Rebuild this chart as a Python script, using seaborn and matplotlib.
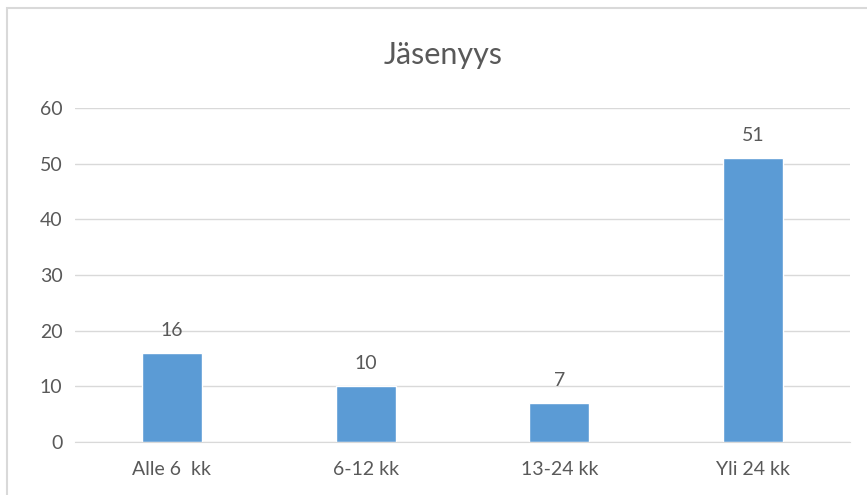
import seaborn as sns
import pandas as pd
import matplotlib.pyplot as plt
from matplotlib.patches import Rectangle

# Data
categories = ['Alle 6  kk', '6-12 kk', '13-24 kk', 'Yli 24 kk']
values = [16, 10, 7, 51]
y_ticks = [0, 10, 20, 30, 40, 50, 60]

data = pd.DataFrame({'Jakso': categories, 'Määrä': values})

sns.set_style('white')
plt.rcParams['font.family'] = ['Lato', 'DejaVu Sans']
text_col = '#595959'

fig = plt.figure(figsize=(8.67, 4.95), dpi=100)
ax = fig.add_axes([75 / 867, 1 - 442 / 495, 775 / 867, 334 / 495])

sns.barplot(x='Jakso', y='Määrä', data=data, color='#5B9BD5', width=0.31,
            saturation=1, ax=ax)

ax.set_ylim(0, 60)
ax.set_xlim(-0.5, 3.5)
ax.set_yticks(y_ticks)
ax.yaxis.grid(True, color='#D9D9D9', linewidth=1)
ax.set_axisbelow(True)
for s in ['top', 'right', 'left']:
    ax.spines[s].set_visible(False)
ax.spines['bottom'].set_color('#D9D9D9')
ax.tick_params(axis='both', length=0, colors=text_col, labelsize=14)
ax.tick_params(axis='x', pad=14)
ax.tick_params(axis='y', pad=9)
ax.set_xlabel('')
ax.set_ylabel('')

ax.bar_label(ax.containers[0], padding=10, color=text_col, fontsize=14)

fig.text(443 / 867, 1 - 55 / 495, 'Jäsenyys', ha='center', va='center',
         fontsize=22, color=text_col)

# chart frame
fig.patches.append(Rectangle((7 / 867, -0.1), 1.2, 1 - 8 / 495 + 0.1,
                             transform=fig.transFigure, fill=False,
                             edgecolor='#D9D9D9', linewidth=1.5))

fig.savefig('out.png', dpi=100)
